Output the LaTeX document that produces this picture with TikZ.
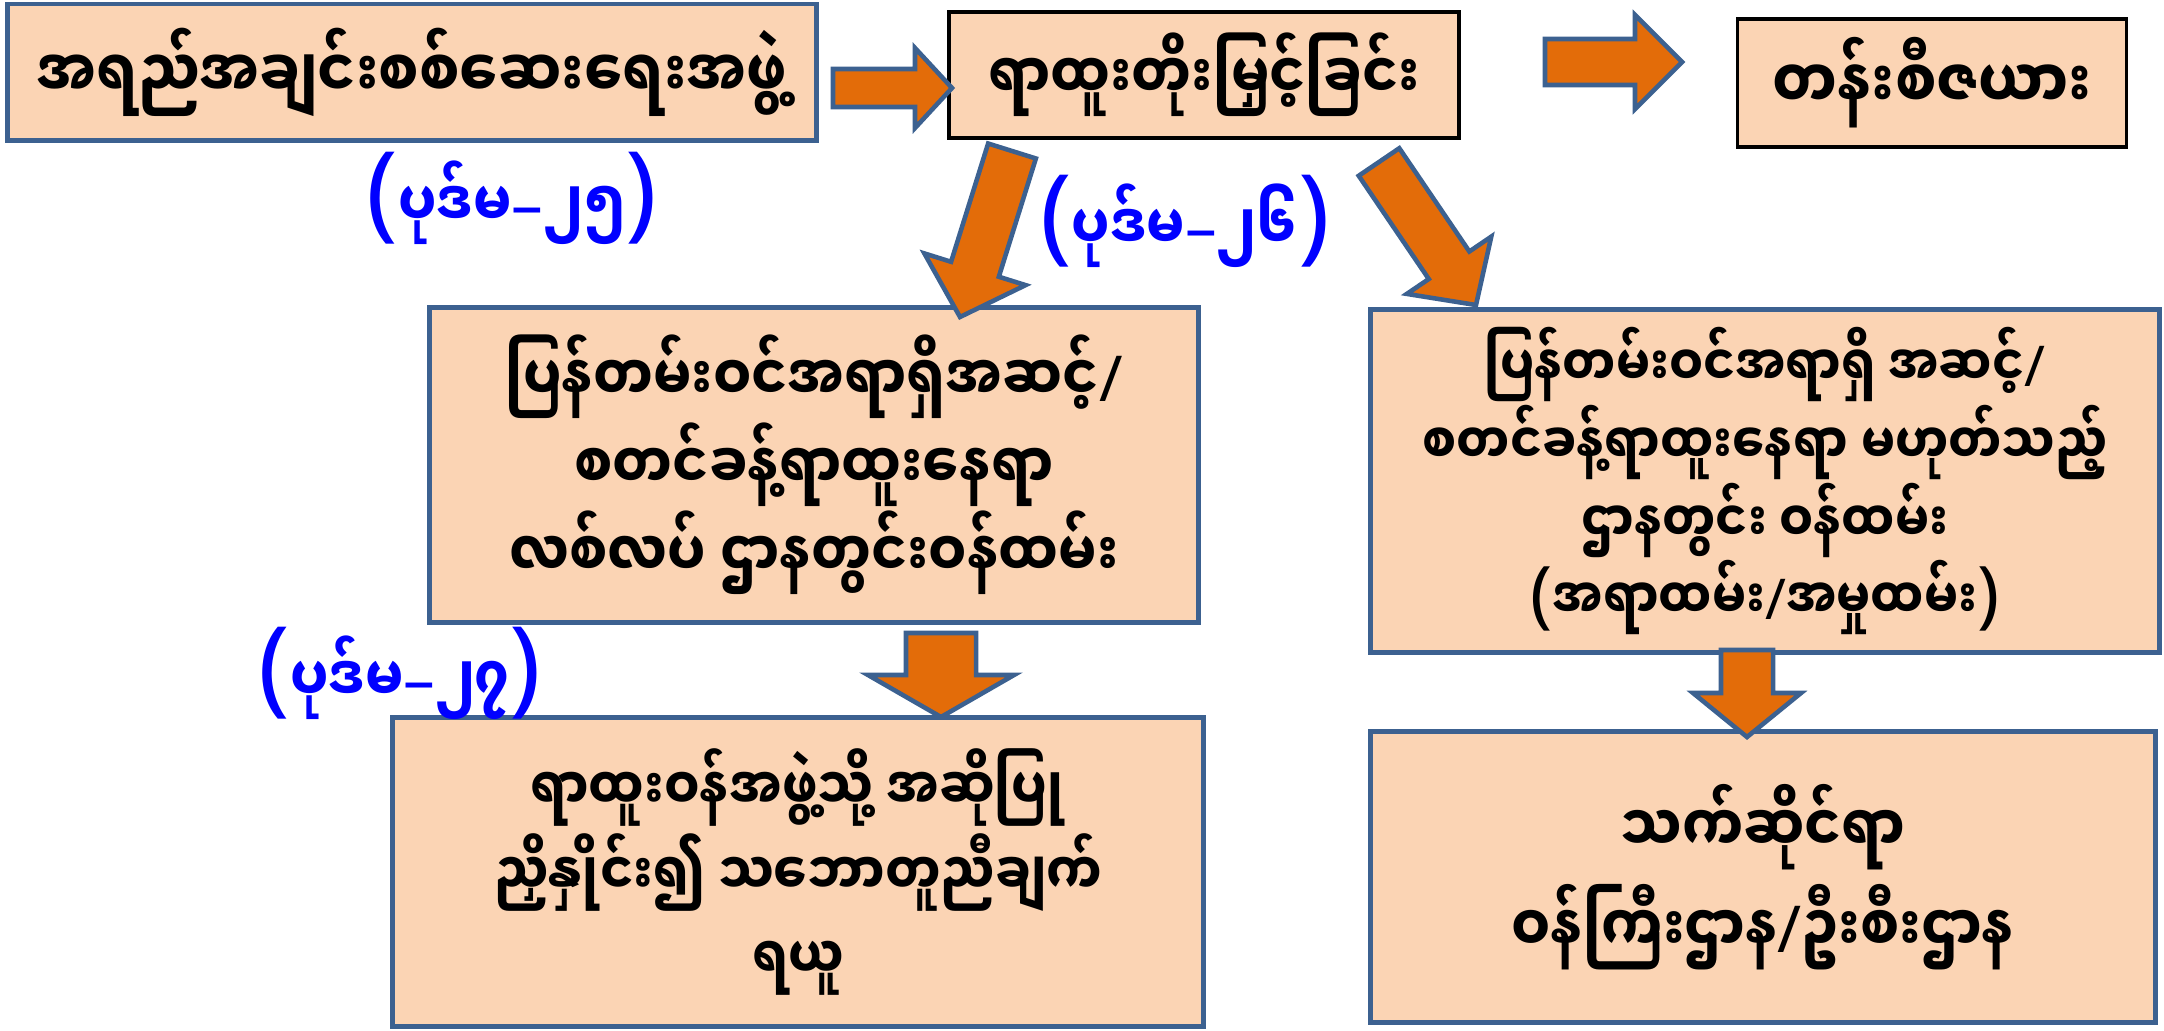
\documentclass[tikz,border=0pt]{standalone}
\usepackage{fontspec}
\setmainfont{Noto Sans}
\newfontfamily\mm[Script=Myanmar, FakeStretch=0.85]{Noto Sans Myanmar UI}
\newfontfamily\latin{Noto Sans}
\usetikzlibrary{calc}

\definecolor{peach}{HTML}{FBD4B4}
\definecolor{edgeblue}{HTML}{3C6190}
\definecolor{fatorange}{HTML}{E36C09}
\definecolor{refblue}{HTML}{0000FF}

\newcommand{\sep}{{\latin\bfseries /}}
\newcommand{\lpar}{{\latin\bfseries\fontsize{21}{19.5}\selectfont (}}
\newcommand{\rpar}{{\latin\bfseries\fontsize{21}{19.5}\selectfont )}}
\newcommand{\biglpar}{{\latin\bfseries\fontsize{30}{30}\selectfont (}}
\newcommand{\bigrpar}{{\latin\bfseries\fontsize{30}{30}\selectfont )}}
% block arrow: tail, tip, half shaft, half head, head length
\newcommand{\fatarrow}[5]{%
  \coordinate (fa-h) at ($#2!#5!#1$);
  \draw[fat] ($#1!#3!90:#2$) -- ($(fa-h)!#3!90:#2$) -- ($(fa-h)!#4!90:#2$) -- #2
    -- ($(fa-h)!#4!-90:#2$) -- ($(fa-h)!#3!-90:#2$) -- ($#1!#3!-90:#2$) -- cycle;
}

\begin{document}
\begin{tikzpicture}[x=0.01cm, y=-0.01cm,
    box/.style={draw=edgeblue, line width=1.4pt, fill=peach, align=center, inner sep=0pt},
    blackbox/.style={box, draw=black, line width=1pt},
    ref/.style={text=refblue, inner sep=0pt, font=\mm\bfseries\fontsize{18}{18}\selectfont},
    fat/.style={fill=fatorange, draw=edgeblue, line width=1.3pt, line join=miter}]
    \useasboundingbox (0,0) rectangle (2164,1030);

    % top row
    \node[box, minimum width=8.09cm, minimum height=1.36cm, font=\mm\bfseries\fontsize{19}{24}\selectfont]
        (check) at (412,72) {အရည်အချင်းစစ်ဆေးရေးအဖွဲ့};
    \node[blackbox, minimum width=5.10cm, minimum height=1.26cm, font=\mm\bfseries\fontsize{18}{24}\selectfont]
        (promo) at (1204,75) {ရာထူးတိုးမြှင့်ခြင်း};
    \node[blackbox, minimum width=3.89cm, minimum height=1.28cm, font=\mm\bfseries\fontsize{19.5}{24}\selectfont]
        (queue) at (1932,83) {တန်းစီဇယား};

    % middle row
    \node[box, minimum width=7.68cm, minimum height=3.14cm, font=\mm\bfseries\fontsize{18}{25}\selectfont]
        (gazetted) at (814,465) {ပြန်တမ်းဝင်အရာရှိအဆင့်\sep\\ စတင်ခန့်ရာထူးနေရာ\\ လစ်လပ် ဌာနတွင်းဝန်ထမ်း};
    \node[box, minimum width=7.89cm, minimum height=3.42cm, font=\mm\bfseries\fontsize{16}{19.5}\selectfont]
        (other) at (1765,481) {ပြန်တမ်းဝင်အရာရှိ အဆင့်\sep\\ စတင်ခန့်ရာထူးနေရာ မဟုတ်သည့်\\ ဌာနတွင်း ဝန်ထမ်း\\ \lpar အရာထမ်း\sep အမှုထမ်း\rpar};

    % bottom row
    \node[box, minimum width=8.10cm, minimum height=3.08cm, font=\mm\bfseries\fontsize{16.7}{24}\selectfont]
        (board) at (798,872) {ရာထူးဝန်အဖွဲ့သို့ အဆိုပြု\\ ညှိနှိုင်း၍ သဘောတူညီချက်\\ ရယူ};
    \node[box, minimum width=7.84cm, minimum height=2.90cm, font=\mm\bfseries\fontsize{18.4}{28.5}\selectfont]
        (ministry) at (1763,877) {သက်ဆိုင်ရာ\\ ဝန်ကြီးဌာန\sep ဦးစီးဌာန};

    % section labels
    \node[ref] (s25) at (512,198) {\biglpar ပုဒ်မ{\latin\bfseries –}၂၅\bigrpar};
    \node[ref] (s26) at (1185,221) {\biglpar ပုဒ်မ{\latin\bfseries –}၂၆\bigrpar};
    \node[ref] (s27) at (400,673) {\biglpar ပုဒ်မ{\latin\bfseries –}၂၇\bigrpar};

    % arrows
    \coordinate (r1a) at (833,88);   \coordinate (r1b) at (952,88);
    \coordinate (r2a) at (1545,62);  \coordinate (r2b) at (1682,62);
    \coordinate (d1a) at (1012,151); \coordinate (d1b) at (960,317);
    \coordinate (d2a) at (1379,162); \coordinate (d2b) at (1476,305);
    \coordinate (v1a) at (941,633);  \coordinate (v1b) at (941,717);
    \coordinate (v2a) at (1747,650); \coordinate (v2b) at (1747,737);
    \fatarrow{(r1a)}{(r1b)}{0.19cm}{0.40cm}{0.37cm}
    \fatarrow{(r2a)}{(r2b)}{0.23cm}{0.47cm}{0.47cm}
    \fatarrow{(d1a)}{(d1b)}{0.25cm}{0.53cm}{0.50cm}
    \fatarrow{(d2a)}{(d2b)}{0.245cm}{0.51cm}{0.48cm}
    \fatarrow{(v1a)}{(v1b)}{0.35cm}{0.73cm}{0.42cm}
    \fatarrow{(v2a)}{(v2b)}{0.26cm}{0.54cm}{0.44cm}
\end{tikzpicture}
\end{document}
